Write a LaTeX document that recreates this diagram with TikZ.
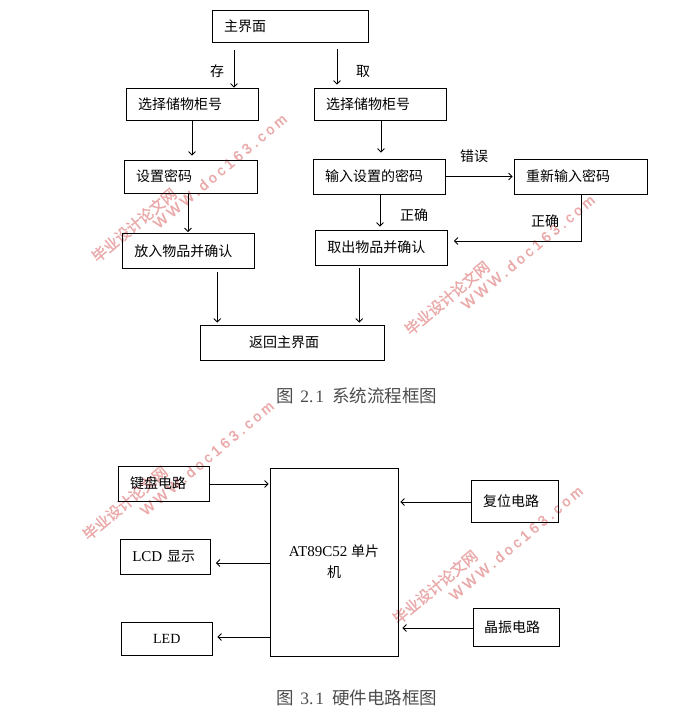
\documentclass[tikz,border=0pt]{standalone}
\usepackage{fontspec}
\setmainfont{Liberation Serif}
\newfontfamily\cjk{Noto Sans CJK SC}[Scale=1]
\newfontfamily\cjkb{Noto Sans CJK SC}[FakeBold=1.5]
\newfontfamily\wmfont{Liberation Sans}[LetterSpace=24,FakeBold=2]
\usetikzlibrary{arrows.meta,calc}
\definecolor{wm}{RGB}{234,170,170}
\tikzset{
  x=1pt,y=-1pt,
  box/.style={draw=black,line width=0.8pt,inner sep=0pt,font=\fontsize{14}{16}\selectfont},
  lbl/.style={inner sep=0pt,font=\fontsize{14}{16}\selectfont\cjk},
  captxt/.style={inner sep=0pt,text=black!70,font=\fontsize{17.5}{19}\selectfont},
  arr/.style={draw=black,line width=0.8pt,-{Straight Barb[length=3.5pt,width=7pt]}},
  wmc/.style={inner sep=0pt,text=wm,rotate=40,font=\fontsize{15}{18}\selectfont\cjkb},
  wme/.style={inner sep=0pt,text=wm,rotate=40,font=\fontsize{14.5}{16}\selectfont\wmfont},
}
\newcommand{\bx}[7][]{% name x1 y1 x2 y2 text
  \node[box,minimum width=#5-#3,minimum height=#6-#4,#1] (#2) at ({(#3+#5)/2},{(#4+#6)/2}) {#7};}
\newcommand{\lt}[2]{\makebox[#1pt][l]{\hspace{12pt}\cjk #2}}
\begin{document}
\begin{tikzpicture}
\useasboundingbox (0,0) rectangle (688,721);
% watermarks
\foreach \cx/\cy/\ex/\ey in {134/225/220/171,447/298/528/252,125/503/207/458,435/587/516/543}{
  \node[wmc] at (\cx,\cy) {毕业设计论文网};
  \node[wme] at (\ex,\ey) {WWW.doc163.com};
}
% flow chart
\bx{main}{212}{10}{368}{42}{\lt{156}{主界面}}
\bx{selL}{126}{88}{258}{120}{\lt{132}{选择储物柜号}}
\bx{setp}{124}{160}{257}{193}{\lt{133}{设置密码}}
\bx{put}{122}{233.5}{254.5}{268}{\lt{132}{放入物品并确认}}
\bx{selR}{314}{88}{446}{120}{\lt{132}{选择储物柜号}}
\bx{inp}{313}{159}{445}{194}{\lt{132}{输入设置的密码}}
\bx{re}{514}{159}{647}{194}{\lt{133}{重新输入密码}}
\bx{take}{315}{230}{447.5}{265}{\lt{132}{取出物品并确认}}
\bx{back}{200}{325}{384}{360}{\makebox[184pt][l]{\hspace{49pt}\cjk 返回主界面}}
\coordinate (mL) at (234,50);
\coordinate (mR) at (337,49);
\draw[arr] (mL) -- (mL |- selL.north);
\draw[arr,shorten >=3pt] (mR) -- (mR |- selR.north);
\draw[arr,shorten >=4pt] ([xshift=0pt]selL.south) -- (selL.south |- setp.north);
\draw[arr,shorten >=1pt] ([xshift=-2.5pt]setp.south) -- ([xshift=-2.5pt]setp.south |- put.north);
\draw[arr,shorten >=2pt] ([xshift=29pt]put.south |- 0,272) -- ([xshift=29pt]put.south |- back.north);
\draw[arr,shorten >=6pt] ([xshift=1pt]selR.south) -- ([xshift=1pt]selR.south |- inp.north);
\draw[arr,shorten >=3pt] ([xshift=1pt]inp.south) -- ([xshift=1pt]inp.south |- take.north);
\draw[arr,shorten >=1pt] (inp.east) -- (inp.east -| re.west);
\draw[arr,shorten >=6pt] ([xshift=0.5pt]re.south) -- ([xshift=0.5pt]re.south |- 0,241) -- (0,241 -| take.east);
\draw[arr,shorten >=2pt] ([xshift=-22pt]take.south |- 0,268) -- ([xshift=-22pt]take.south |- back.north);
\node[lbl] (l1) at (217,71) {存};
\node[lbl] (l2) at (363,72) {取};
\node[lbl] (l3) at (474,156) {错误};
\node[lbl] (l4) at (414,215) {正确};
\node[lbl] (l5) at (545,221) {正确};
\node[captxt] (c1) at (357,396) {{\cjk 图}\hspace{6pt}2.\hspace{2pt}1\hspace{8pt}{\cjk 系统流程框图}};
% hardware
\bx{key}{118}{466}{209}{501}{\lt{91}{键盘电路}}
\bx{lcd}{120}{539}{210.5}{574}{\makebox[90pt][l]{\hspace{12pt}\fontsize{15}{16}\selectfont LCD\hspace{5pt}{\cjk\fontsize{14}{16}\selectfont 显示}}}
\bx{led}{121.5}{622}{212}{655}{LED}
\node[box,minimum width=128pt,minimum height=188pt,align=center] (mcu) at (334,562) {\fontsize{15}{16}\selectfont AT89C52 {\cjk\fontsize{14}{16}\selectfont 单片}\\[5pt]{\cjk 机}};
\bx{rst}{471}{480}{558}{522}{\makebox[87pt][l]{\hspace{12pt}\cjk 复位电路}}
\bx{osc}{473}{608}{559}{646}{\makebox[86pt][l]{\hspace{11pt}\cjk 晶振电路}}
\draw[arr,shorten >=1pt] (key.east |- 0,484) -- (mcu.west |- 0,484);
\draw[arr,shorten >=5pt] (mcu.west |- 0,563) -- (lcd.east |- 0,563);
\draw[arr,shorten >=5pt] (mcu.west |- 0,637) -- (led.east |- 0,637);
\draw[arr,shorten >=2pt] (rst.west |- 0,502) -- (mcu.east |- 0,502);
\draw[arr,shorten >=4pt] (osc.west |- 0,628) -- (mcu.east |- 0,628);
\node[captxt] (c2) at (357,698) {{\cjk 图}\hspace{6pt}3.\hspace{2pt}1\hspace{8pt}{\cjk 硬件电路框图}};
\end{tikzpicture}
\end{document}
